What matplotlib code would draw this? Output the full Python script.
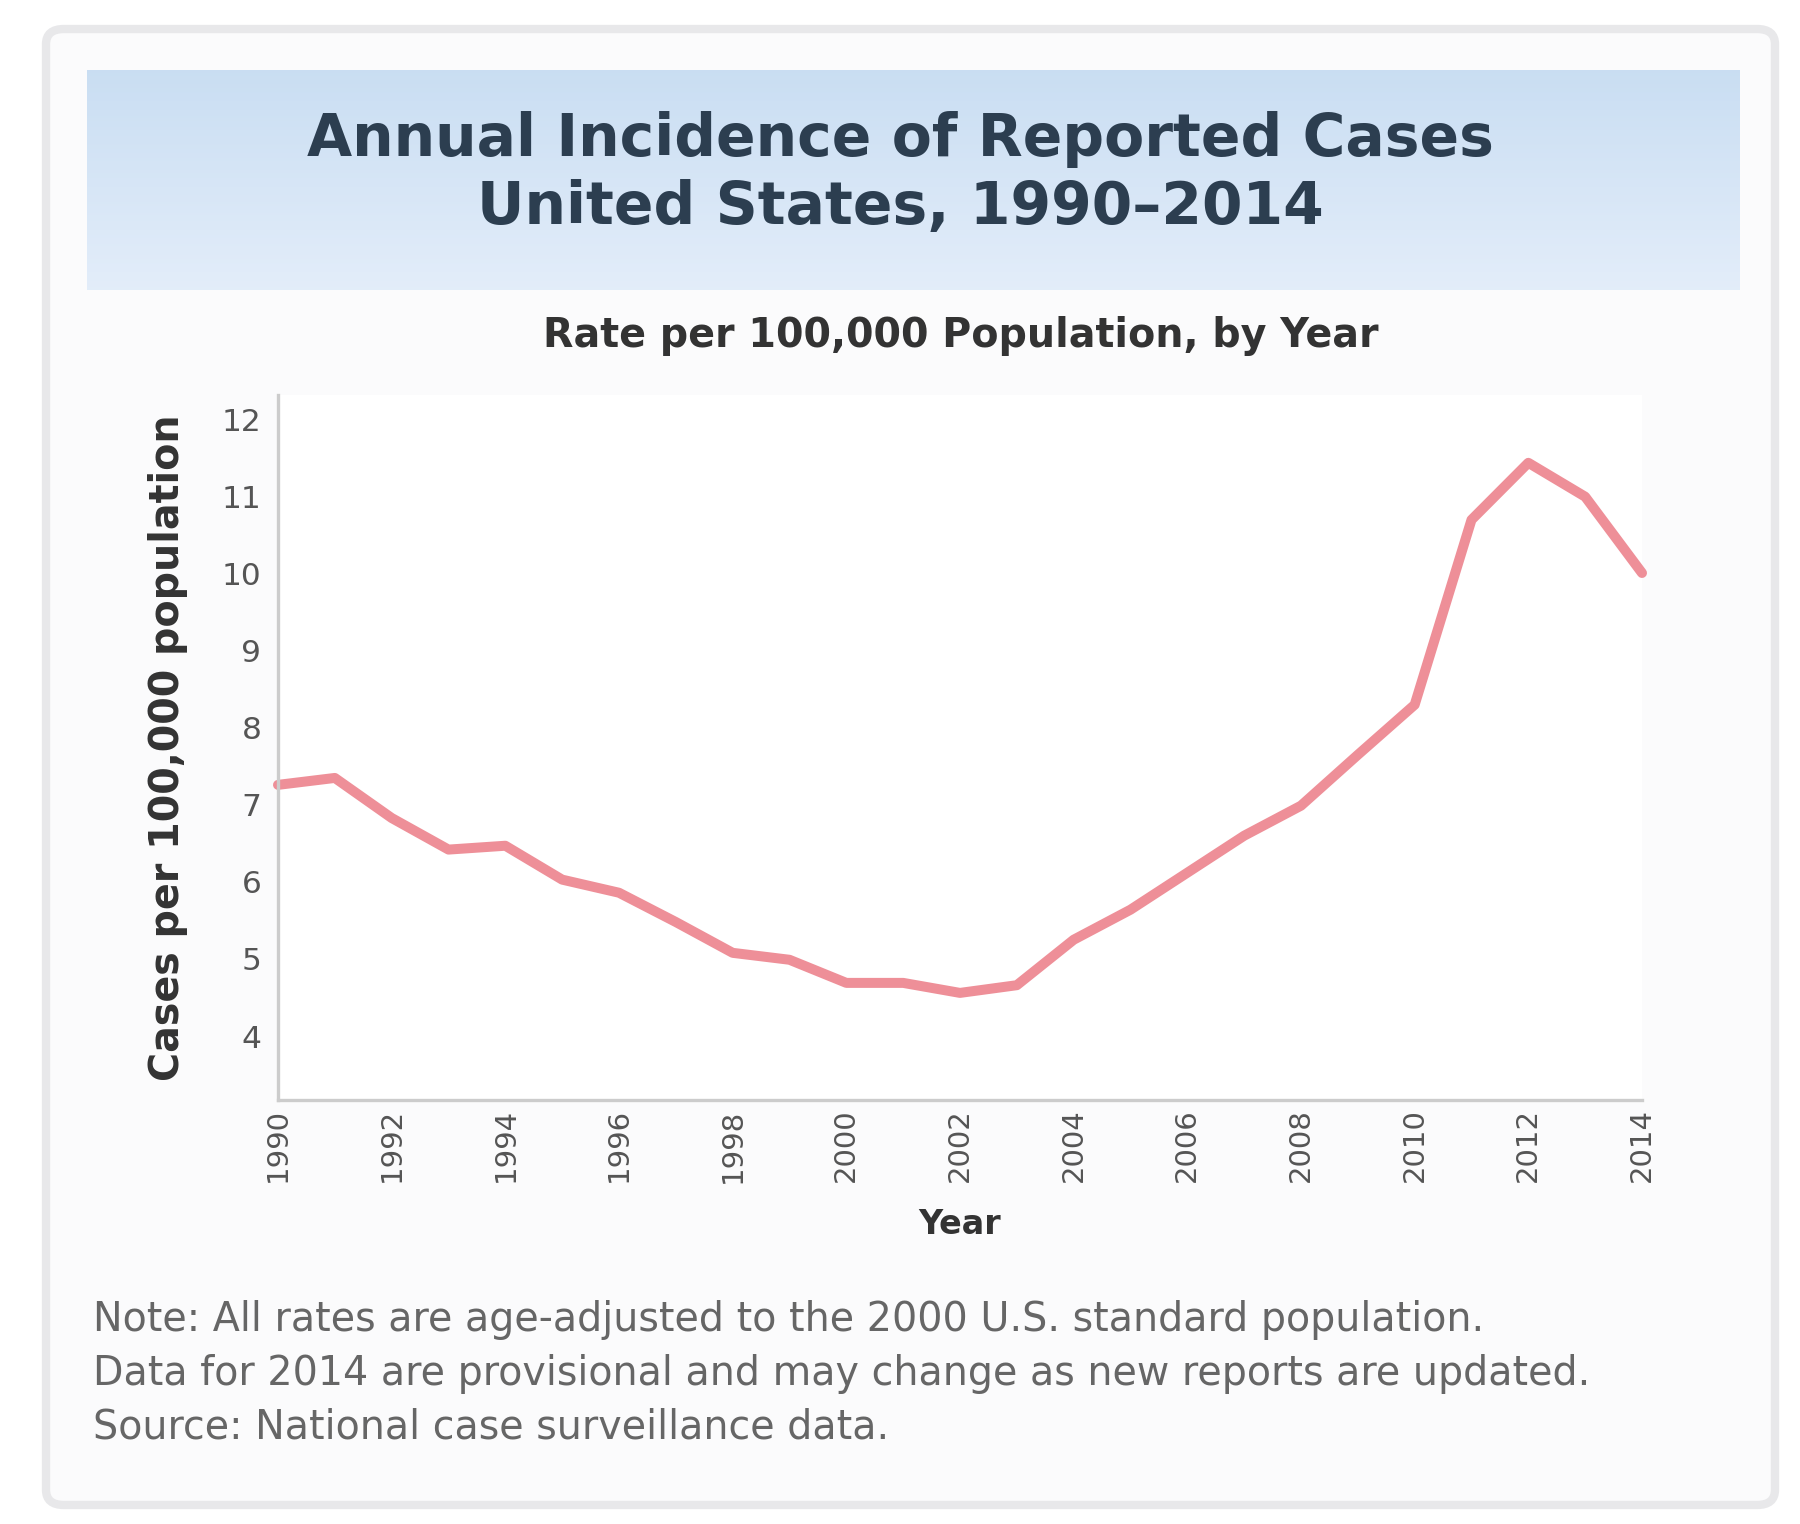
import numpy as np
import matplotlib
matplotlib.use("Agg")
import matplotlib.pyplot as plt
from matplotlib.patches import FancyBboxPatch

# data
years = list(range(1990, 2015))
rates = [7.26, 7.35, 6.83, 6.42, 6.47, 6.03, 5.86, 5.48, 5.08, 4.99,
         4.69, 4.69, 4.56, 4.66, 5.25, 5.64, 6.12, 6.60, 6.99, 7.65,
         8.30, 10.70, 11.44, 11.00, 10.01]
x_ticks = list(range(1990, 2015, 2))
y_ticks = [4, 5, 6, 7, 8, 9, 10, 11, 12]

title_lines = ["Annual Incidence of Reported Cases",
               "United States, 1990\u20132014"]
subtitle = "Rate per 100,000 Population, by Year"
y_label = "Cases per 100,000 population"
x_label = "Year"
footer = ("Note: All rates are age-adjusted to the 2000 U.S. standard population.\n"
          "Data for 2014 are provisional and may change as new reports are updated.\n"
          "Source: National case surveillance data.")

W, H = 1800, 1524


def fx(px):
    return px / W


def fy(py):
    return 1 - py / H


fig = plt.figure(figsize=(6, 5.08), dpi=300, facecolor="white")

# card behind everything
card = FancyBboxPatch((fx(46), fy(1505)), fx(1775) - fx(46), fy(29) - fy(1505),
                      boxstyle="round,pad=0,rounding_size=0.01",
                      transform=fig.transFigure, facecolor="#fbfbfc",
                      edgecolor="#e8e8ea", linewidth=2.0, zorder=-5)
fig.patches.append(card)

# title banner with a soft gradient
ban = fig.add_axes([fx(87), fy(290), fx(1740) - fx(87), fy(70) - fy(290)])
grad = np.linspace(0, 1, 100).reshape(-1, 1)
top = np.array([0.79, 0.87, 0.95])
bot = np.array([0.89, 0.93, 0.98])
img = top + (bot - top) * grad[:, :, None]
img = np.repeat(img, 2, axis=1)
ban.imshow(img, aspect="auto", extent=[0, 1, 0, 1])
ban.set_axis_off()
fig.text(0.5, fy(139), title_lines[0], ha="center", va="center",
         fontsize=14, fontweight="bold", color="#2c3e50")
fig.text(0.5, fy(208), title_lines[1], ha="center", va="center",
         fontsize=14, fontweight="bold", color="#2c3e50")

# main axes
ax = fig.add_axes([fx(278), fy(1100), fx(1642) - fx(278), fy(395) - fy(1100)])
ax.plot(years, rates, color="#ee8f98", linewidth=2.4, solid_capstyle="round",
        clip_on=False)
ax.set_xlim(1990, 2014)
ax.set_ylim(3.17, 12.32)
ax.set_xticks(x_ticks)
ax.set_xticklabels([str(y) for y in x_ticks], rotation=90)
ax.set_yticks(y_ticks)
ax.tick_params(axis="both", labelsize=7.5, colors="#555555", length=0, pad=4)
ax.tick_params(axis="x", labelsize=7, pad=2)
for s in ["top", "right"]:
    ax.spines[s].set_visible(False)
for s in ["left", "bottom"]:
    ax.spines[s].set_color("#cccccc")
    ax.spines[s].set_linewidth(0.8)
ax.set_facecolor("white")
ax.set_xlabel(x_label, fontsize=8, fontweight="bold", color="#333333", labelpad=6)
ax.set_ylabel(y_label, fontsize=9.5, fontweight="bold", color="#333333", labelpad=8)

fig.text(fx(961), fy(336), subtitle, ha="center", va="center",
         fontsize=9.5, fontweight="bold", color="#333333")

# footer note
fig.text(fx(93), fy(1300), footer, ha="left", va="top", fontsize=9.5,
         color="#666666", linespacing=1.45)

fig.savefig("out.png", dpi=300, facecolor="white")
